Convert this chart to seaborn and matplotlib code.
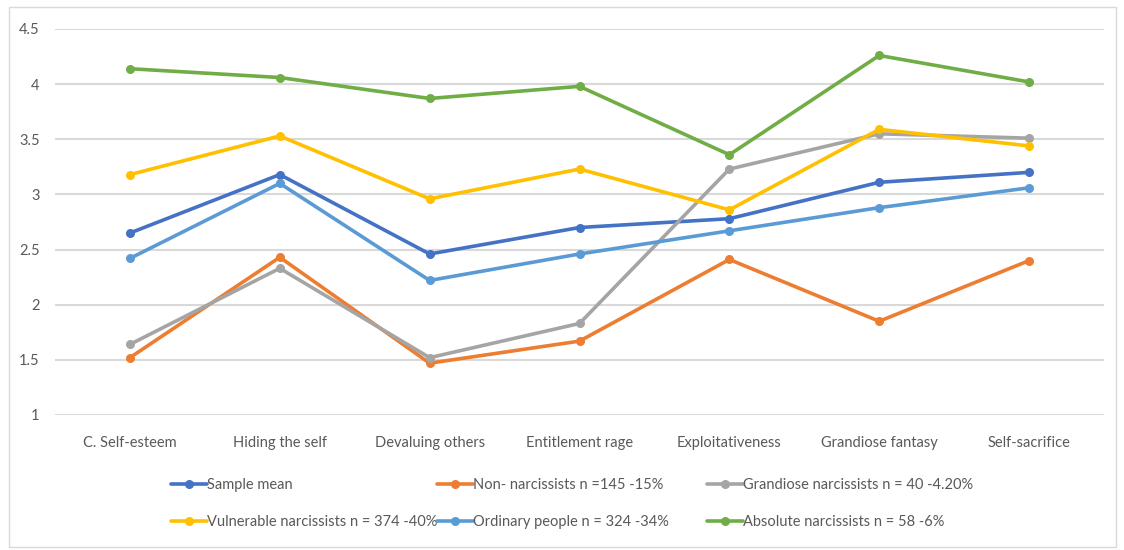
import matplotlib
matplotlib.use("Agg")
import matplotlib.pyplot as plt
from matplotlib.lines import Line2D
from matplotlib.patches import Rectangle
import seaborn as sns
import pandas as pd

categories = ["C. Self-esteem", "Hiding the self", "Devaluing others", "Entitlement rage",
              "Exploitativeness", "Grandiose fantasy", "Self-sacrifice"]

sample_mean = [2.65, 3.18, 2.46, 2.70, 2.78, 3.11, 3.20]
non_narcissists = [1.52, 2.43, 1.47, 1.67, 2.41, 1.85, 2.40]
grandiose_narcissists = [1.64, 2.33, 1.52, 1.83, 3.23, 3.55, 3.51]
vulnerable_narcissists = [3.18, 3.53, 2.96, 3.23, 2.86, 3.59, 3.44]
ordinary_people = [2.42, 3.10, 2.22, 2.46, 2.67, 2.88, 3.06]
absolute_narcissists = [4.14, 4.06, 3.87, 3.98, 3.36, 4.26, 4.02]

series_names = ["Sample mean", "Non- narcissists n =145 -15%", "Grandiose narcissists n = 40 -4.20%",
                "Vulnerable narcissists n = 374 -40%", "Ordinary people n = 324 -34%",
                "Absolute narcissists n = 58 -6%"]
series_values = [sample_mean, non_narcissists, grandiose_narcissists,
                 vulnerable_narcissists, ordinary_people, absolute_narcissists]
colors = ["#4472C4", "#ED7D31", "#A5A5A5", "#FFC000", "#5B9BD5", "#70AD47"]

y_ticks = [1, 1.5, 2, 2.5, 3, 3.5, 4, 4.5]
y_tick_labels = ["1", "1.5", "2", "2.5", "3", "3.5", "4", "4.5"]

rows = []
for name, vals in zip(series_names, series_values):
    for c, v in zip(categories, vals):
        rows.append({"category": c, "value": v, "series": name})
df = pd.DataFrame(rows)

sns.set_theme(style="white")
plt.rcParams["font.family"] = ["Lato", "DejaVu Sans"]

FS = 10.5
W, H = 1124, 550
fig = plt.figure(figsize=(W / 100, H / 100), dpi=100)
ax = fig.add_axes([55 / W, 1 - 415 / H, (1104 - 55) / W, (415 - 29) / H])

palette = dict(zip(series_names, colors))
sns.lineplot(data=df, x="category", y="value", hue="series", palette=palette,
             hue_order=series_names, sort=False, marker="o", markersize=6.5,
             markeredgewidth=0, linewidth=2.6, legend=False, ax=ax, zorder=3)

ax.set_xlim(-0.5, len(categories) - 0.5)
ax.set_ylim(1, 4.5)
ax.set_yticks(y_ticks)
ax.set_yticklabels(y_tick_labels)
ax.set_xlabel("")
ax.set_ylabel("")
for s in ax.spines.values():
    s.set_visible(False)
ax.grid(axis="y", color="#D9D9D9", linewidth=1.5, zorder=0)
ax.grid(axis="x", visible=False)
ax.tick_params(axis="both", length=0, colors="#595959", labelsize=FS)
ax.tick_params(axis="x", pad=15)
ax.tick_params(axis="y", pad=11)

# figure border
fig.add_artist(Rectangle((9 / W, 3 / H), (1116 - 9) / W, (547 - 7) / H,
                         transform=fig.transFigure, fill=False,
                         edgecolor="#D9D9D9", linewidth=1.0))

# legend: three columns placed at handle positions
col_x = [171, 437, 707]
col_members = [[0, 3], [1, 4], [2, 5]]
for cx, members in zip(col_x, col_members):
    handles = [Line2D([], [], color=colors[i], linewidth=2.6, marker="o",
                      markersize=6.5, markeredgewidth=0) for i in members]
    labels = [series_names[i] for i in members]
    fig.legend(handles, labels, loc="upper left",
               bbox_to_anchor=(cx / W, 1 - 478 / H),
               frameon=False, fontsize=FS, handlelength=2.45,
               handletextpad=0.05, labelspacing=1.6, borderpad=0,
               borderaxespad=0, labelcolor="#595959")

fig.savefig("out.png", dpi=100, facecolor="white")
